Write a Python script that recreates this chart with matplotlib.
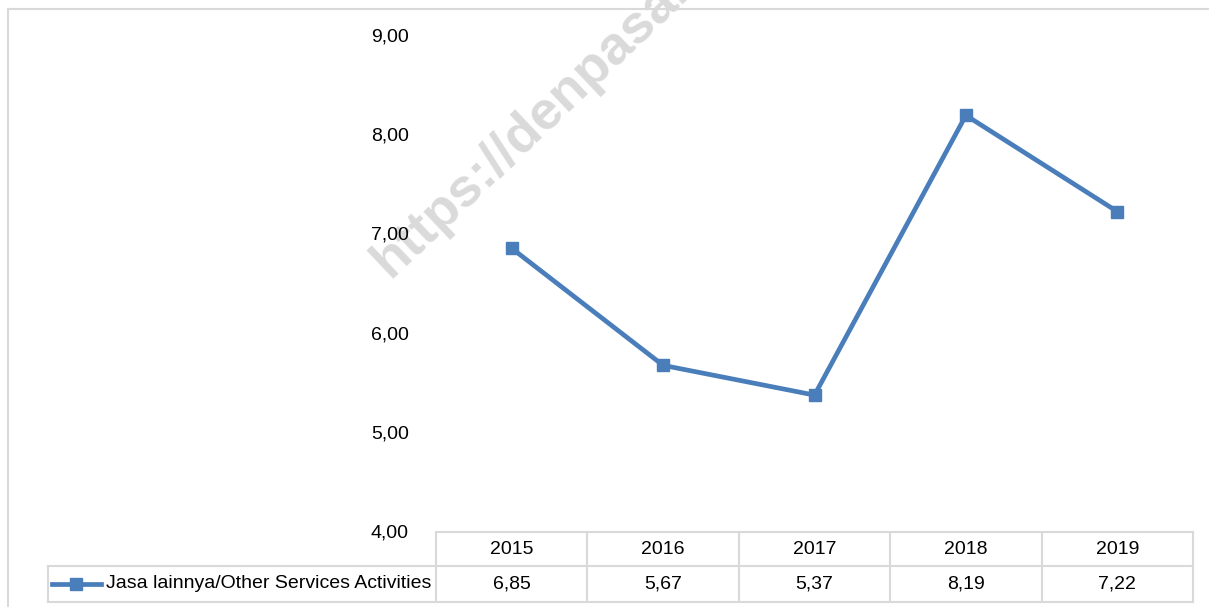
import numpy as np
import matplotlib.pyplot as plt
from matplotlib.lines import Line2D
from matplotlib.transforms import blended_transform_factory

plt.rcParams['font.family'] = ['Liberation Sans', 'DejaVu Sans']

years = ['2015', '2016', '2017', '2018', '2019']
values = [6.85, 5.67, 5.37, 8.19, 7.22]
series_name = 'Jasa lainnya/Other Services Activities'
yticks = [4, 5, 6, 7, 8, 9]

W, H = 1209, 607
BLUE = '#4a7ebb'
GRID = '#d9d9d9'

fig = plt.figure(figsize=(W / 100, H / 100), dpi=100)


def fy(py):
    return 1 - py / H


def fx(px):
    return px / W


ax = fig.add_axes([fx(436), fy(531), fx(1193) - fx(436), fy(35) - fy(531)])
x = np.arange(len(years))
ax.plot(x, values, color=BLUE, lw=3.4, marker='s', ms=8.6,
        solid_joinstyle='miter', clip_on=False, zorder=3)
ax.set_xlim(-0.5, len(years) - 0.5)
ax.set_ylim(4, 9)
ax.set_xticks([])
ax.set_yticks(yticks)
ax.set_yticklabels([f'{v:.2f}'.replace('.', ',') for v in yticks])
ax.tick_params(axis='y', length=0, pad=19.5, labelsize=14)
for s in ax.spines.values():
    s.set_visible(False)
ax.patch.set_alpha(0)

# outer chart frame
fig.add_artist(Line2D([fx(8), fx(8)], [fy(9), fy(H + 5)], color=GRID, lw=1.5))
fig.add_artist(Line2D([fx(8), fx(W + 5)], [fy(9), fy(9)], color=GRID, lw=1.5))

# watermark (cut by the top edge, as in the source image)
fig.text(fx(390), fy(279), 'https://denpasarkota.bps.go.id', rotation=43.5,
         rotation_mode='anchor', ha='left', va='baseline', fontsize=39,
         fontweight='bold', color='#dadada', zorder=-1)

# data table
tr = blended_transform_factory(ax.transData, fig.transFigure)
t_top, t_mid, t_bot = fy(532), fy(566), fy(602)
lk = dict(color=GRID, lw=1.5, clip_on=False)
fig.add_artist(Line2D([fx(436), fx(1193)], [t_top, t_top], **lk))
fig.add_artist(Line2D([fx(48), fx(1193)], [t_mid, t_mid], **lk))
fig.add_artist(Line2D([fx(48), fx(1193)], [t_bot, t_bot], **lk))
fig.add_artist(Line2D([fx(48), fx(48)], [t_mid, t_bot], **lk))
for b in np.arange(len(years) + 1) - 0.5:
    ax.add_line(Line2D([b, b], [t_top, t_bot], transform=tr, **lk))
for i, (yr, v) in enumerate(zip(years, values)):
    ax.text(i, fy(549), yr, transform=tr, ha='center', va='center', fontsize=14)
    ax.text(i, fy(584), f'{v:.2f}'.replace('.', ','), transform=tr,
            ha='center', va='center', fontsize=14)

# legend key in the table
fig.add_artist(Line2D([fx(52), fx(101)], [fy(584), fy(584)], color=BLUE, lw=3.4))
fig.add_artist(Line2D([fx(76)], [fy(584)], color=BLUE, marker='s', ms=8.6))
fig.text(fx(106), fy(584), series_name, ha='left', va='center', fontsize=14)

fig.savefig('out.png', dpi=100)
